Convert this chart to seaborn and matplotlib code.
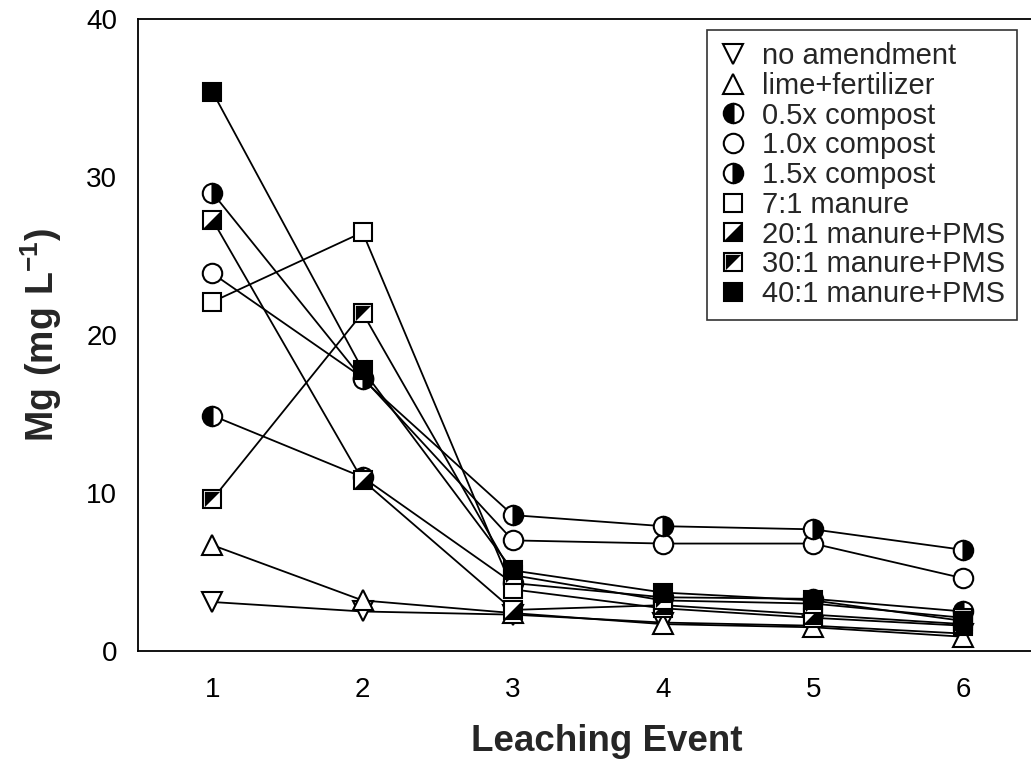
import numpy as np
import matplotlib
matplotlib.use("Agg")
import matplotlib.pyplot as plt
from matplotlib.path import Path
from matplotlib.lines import Line2D
import seaborn as sns

events = [1, 2, 3, 4, 5, 6]
no_amendment = [3.1, 2.5, 2.3, 1.8, 1.6, 1.1]
lime_fert = [6.7, 3.2, 2.4, 1.7, 1.5, 0.9]
compost_05 = [14.9, 11.0, 4.3, 3.4, 3.3, 2.5]
compost_10 = [23.9, 17.3, 7.0, 6.8, 6.8, 4.6]
compost_15 = [29.0, 17.2, 8.6, 7.9, 7.7, 6.4]
manure_7 = [22.1, 26.5, 3.9, 2.7, 2.1, 1.6]
manure_pms_20 = [27.3, 10.8, 2.6, 2.9, 2.3, 1.7]
manure_pms_30 = [9.6, 21.4, 4.8, 3.2, 3.0, 2.1]
manure_pms_40 = [35.4, 17.8, 5.1, 3.7, 3.2, 1.9]

labels = ["no amendment", "lime+fertilizer", "0.5x compost", "1.0x compost",
          "1.5x compost", "7:1 manure", "20:1 manure+PMS", "30:1 manure+PMS",
          "40:1 manure+PMS"]
series = [no_amendment, lime_fert, compost_05, compost_10, compost_15,
          manure_7, manure_pms_20, manure_pms_30, manure_pms_40]

sns.set_theme(style="white")
plt.rcParams['font.family'] = ['Liberation Sans', 'DejaVu Sans']
plt.rcParams['mathtext.fontset'] = 'custom'
plt.rcParams['mathtext.rm'] = 'Liberation Sans'
plt.rcParams['mathtext.bf'] = 'Liberation Sans:bold'

fig = plt.figure(figsize=(10.31, 7.76), dpi=100)
ax = fig.add_axes([0.1339, 0.1611, 0.8661, 0.8144])

tri_ul = Path([(-1, 1), (1, 1), (-1, -1), (-1, 1)],
              [Path.MOVETO, Path.LINETO, Path.LINETO, Path.CLOSEPOLY])
tri_lr = Path([(1, 1), (1, -1), (-1, -1), (1, 1)],
              [Path.MOVETO, Path.LINETO, Path.LINETO, Path.CLOSEPOLY])

ms = 14
sq = 12.5
mew = 1.5
styles = [
    dict(marker='v', markerfacecolor='white'),
    dict(marker='^', markerfacecolor='white'),
    dict(marker='o', fillstyle='left', markerfacecolor='black', markerfacecoloralt='white'),
    dict(marker='o', markerfacecolor='white'),
    dict(marker='o', fillstyle='right', markerfacecolor='black', markerfacecoloralt='white'),
    dict(marker='s', markerfacecolor='white', markersize=sq),
    dict(marker='s', markerfacecolor='white', markersize=sq),
    dict(marker='s', markerfacecolor='white', markersize=sq),
    dict(marker='s', markerfacecolor='black', markersize=sq),
]
overlays = {6: tri_lr, 7: tri_ul}

handles = []
for i, (lab, vals, st) in enumerate(zip(labels, series, styles)):
    kw = dict(markersize=ms, markeredgecolor='black', markeredgewidth=mew)
    kw.update(st)
    sns.lineplot(x=events, y=vals, ax=ax, color='black', linewidth=1.3,
                 zorder=2 + i, **kw)
    h = Line2D([], [], linestyle='none', color='black', **kw)
    if i in overlays:
        ax.plot(events, vals, linestyle='none', marker=overlays[i],
                markersize=sq - mew, markerfacecolor='black',
                markeredgewidth=0, zorder=2 + i + 0.5)
        h2 = Line2D([], [], linestyle='none', marker=overlays[i],
                    markersize=sq - mew, markerfacecolor='black',
                    markeredgewidth=0)
        h = (h, h2)
    handles.append(h)

ax.set_xlim(0.505, 6.45)
ax.set_ylim(0, 40)
ax.set_xticks(events)
ax.set_yticks([0, 10, 20, 30, 40])
ax.tick_params(axis='both', direction='out', length=7, width=1.2,
               labelsize=20, color='black', labelcolor='black', pad=8)
ax.tick_params(axis='x', pad=12)
for side in ['left', 'bottom', 'top']:
    ax.spines[side].set_color('black')
    ax.spines[side].set_linewidth(1.3)
ax.spines['right'].set_visible(False)

ax.set_xlabel("Leaching Event", fontsize=26.5, fontweight='bold', labelpad=14)
ax.xaxis.set_label_coords(0.525, -0.115)
ax.set_ylabel(r"$\mathbf{Mg\ (mg\ L^{-1})}$", fontsize=27, labelpad=16)

leg = ax.legend(handles, labels, loc='upper right', bbox_to_anchor=(0.984, 0.982),
                fontsize=21, frameon=True, fancybox=False, edgecolor='black',
                handlelength=1.0, handletextpad=0.5, labelspacing=0.06,
                borderpad=0.4, borderaxespad=0)
leg.get_frame().set_linewidth(1.2)

fig.savefig("out.png", dpi=100)
